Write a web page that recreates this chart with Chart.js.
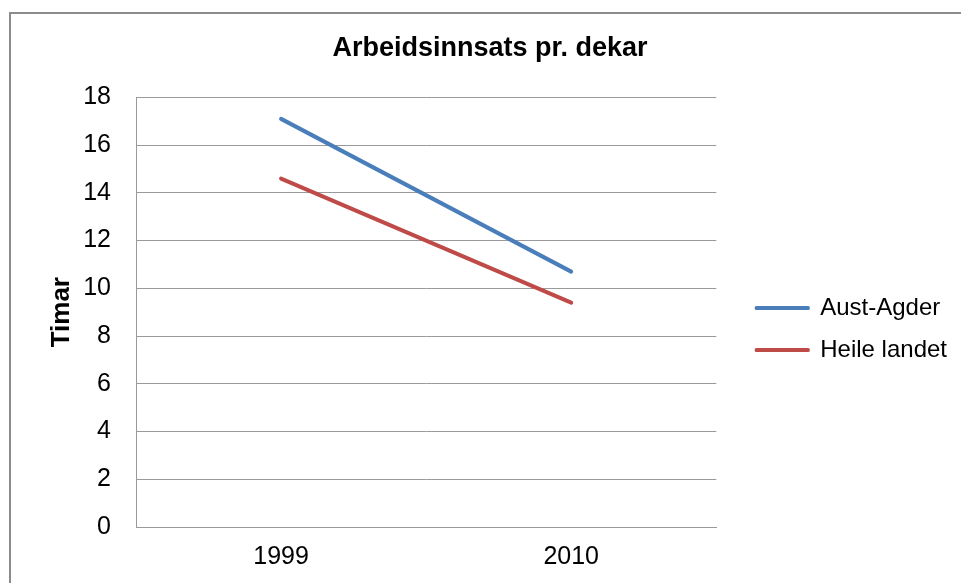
<!DOCTYPE html>
<html>
<head>
<meta charset="utf-8">
<script src="https://cdn.jsdelivr.net/npm/chart.js@4/dist/chart.umd.min.js"></script>
<style>
  html, body { margin: 0; padding: 0; background: #fff; overflow: hidden; }
  #wrap { position: relative; width: 961px; height: 583px; }
  #frame {
    position: absolute; left: 9px; top: 12px; width: 1000px; height: 700px;
    border-left: 2px solid #8c8c8c; border-top: 2px solid #8c8c8c;
  }
  canvas { position: absolute; left: 0; top: 0; }
</style>
</head>
<body>
<div id="wrap">
  <div id="frame"></div>
  <canvas id="chart" width="961" height="583"></canvas>
</div>
<script>
const years = ['1999', '2010'];
const austAgder = [17.1, 10.7];
const heileLandet = [14.6, 9.4];
const seriesNames = ['Aust-Agder', 'Heile landet'];
const seriesColors = ['#4a7ebb', '#be4b48'];

const font = '"Liberation Sans", Arial, sans-serif';
const clear = 'rgba(0,0,0,0)';

const ctx = document.getElementById('chart').getContext('2d');

new Chart(ctx, {
  type: 'line',
  data: {
    labels: years,
    datasets: [austAgder, heileLandet].map((vals, i) => ({
      label: seriesNames[i],
      data: vals,
      borderColor: seriesColors[i],
      backgroundColor: seriesColors[i],
      borderWidth: 4,
      borderCapStyle: 'round',
      pointRadius: 0,
      tension: 0,
      fill: false
    }))
  },
  options: {
    responsive: false,
    animation: false,
    layout: {
      padding: { left: 23, top: 14, right: 4, bottom: 11 }
    },
    plugins: {
      title: {
        display: true,
        text: 'Arbeidsinnsats pr. dekar',
        color: '#000',
        font: { family: font, size: 27, weight: 'bold' },
        padding: { top: 18, bottom: 33 }
      },
      legend: {
        position: 'right',
        align: 'center',
        title: { display: true, text: '', font: { size: 10 }, padding: { top: 30, bottom: 30 } },
        labels: {
          color: '#000',
          font: { family: font, size: 24 },
          boxWidth: 52,
          boxHeight: 1,
          padding: 18,
          generateLabels: chart => chart.data.datasets.map((ds, i) => ({
            text: ds.label,
            fontColor: '#000',
            fillStyle: ds.borderColor,
            strokeStyle: ds.borderColor,
            lineWidth: 3,
            lineJoin: 'round',
            lineCap: 'round',
            hidden: false,
            datasetIndex: i
          }))
        }
      },
      tooltip: { enabled: false }
    },
    scales: {
      x: {
        offset: true,
        grid: { display: true, drawOnChartArea: false, color: clear, tickColor: clear, drawTicks: true, tickLength: 15 },
        border: { display: true, color: '#9a9a9a', width: 1 },
        ticks: { color: '#000', font: { family: font, size: 25 }, padding: 0 }
      },
      y: {
        min: 0,
        max: 18,
        grid: { color: '#9a9a9a', lineWidth: 1, drawTicks: true, tickLength: 25, tickColor: clear },
        border: { display: true, color: '#9a9a9a', width: 1 },
        ticks: { stepSize: 2, color: '#000', font: { family: font, size: 25 }, padding: 0 },
        title: {
          display: true,
          text: 'Timar',
          color: '#000',
          font: { family: font, size: 26, weight: 'bold' },
          padding: { top: 23, bottom: 6 }
        }
      },
      gap: {
        type: 'linear',
        position: 'right',
        display: false,
        afterFit: s => { s.width = 22; }
      }
    }
  }
});
</script>
</body>
</html>
